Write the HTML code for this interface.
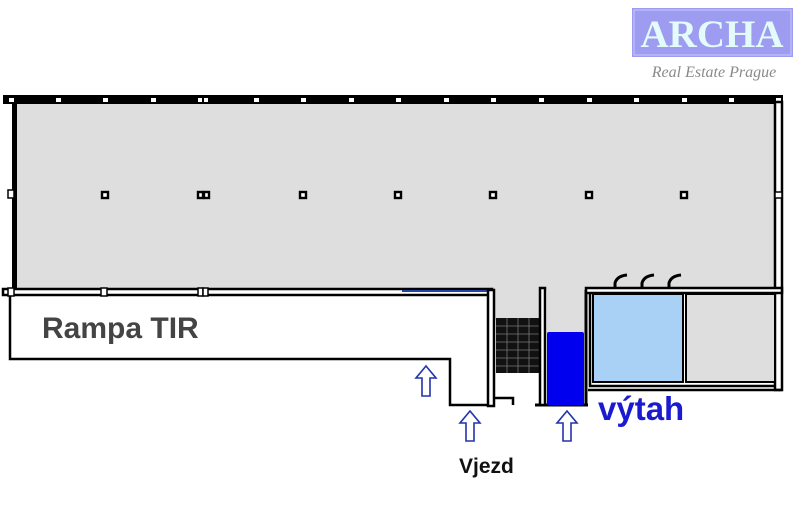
<!DOCTYPE html>
<html><head><meta charset="utf-8"><style>
html,body{margin:0;padding:0;background:#fff;width:800px;height:511px;overflow:hidden}
</style></head><body>
<svg width="800" height="511" viewBox="0 0 800 511" xmlns="http://www.w3.org/2000/svg">
<rect x="632" y="8" width="161" height="49" fill="#9d9cf0"/>
<rect x="634" y="10" width="157" height="45" fill="none" stroke="#c8c8f8" stroke-width="1"/>
<text x="712" y="47" text-anchor="middle" font-family="Liberation Serif, serif" font-weight="bold" font-size="39" fill="#e4fbfb">ARCHA</text>
<text x="714" y="77" text-anchor="middle" font-family="Liberation Serif, serif" font-style="italic" font-size="16" fill="#8a8a8a">Real Estate Prague</text>

<rect x="15" y="102" width="762" height="188" fill="#dedede"/>
<rect x="495" y="288" width="45" height="32" fill="#dedede"/>
<rect x="547" y="288" width="38" height="46" fill="#dedede"/>
<rect x="3" y="95" width="780" height="9" fill="#000"/>
<g fill="#fff">
<rect x="9" y="98" width="5" height="4"/><rect x="56" y="98" width="5" height="4"/><rect x="103" y="98" width="5" height="4"/><rect x="151" y="98" width="5" height="4"/><rect x="198" y="98" width="4" height="4"/><rect x="204" y="98" width="4" height="4"/><rect x="254" y="98" width="5" height="4"/><rect x="301" y="98" width="5" height="4"/><rect x="349" y="98" width="5" height="4"/><rect x="396" y="98" width="5" height="4"/><rect x="444" y="98" width="5" height="4"/><rect x="491" y="98" width="5" height="4"/><rect x="539" y="98" width="5" height="4"/><rect x="587" y="98" width="5" height="4"/><rect x="634" y="98" width="5" height="4"/><rect x="682" y="98" width="5" height="4"/><rect x="729" y="98" width="5" height="4"/><rect x="776" y="98" width="5" height="4"/>
</g>
<rect x="12" y="102" width="5" height="192" fill="#000"/>
<rect x="8" y="190" width="6" height="8" fill="#fff" stroke="#000" stroke-width="1.5"/>
<rect x="775" y="102" width="7" height="288" fill="#fff" stroke="#000" stroke-width="2.5"/>
<rect x="775" y="192" width="7" height="6" fill="#fff" stroke="#000" stroke-width="1.5"/>
<rect x="3" y="289" width="489" height="6" fill="#fff" stroke="#000" stroke-width="2.5"/>
<line x1="402" y1="291" x2="490" y2="291" stroke="#2244aa" stroke-width="2"/>
<g fill="#fff" stroke="#000" stroke-width="1.5">
<rect x="8" y="288" width="6" height="8"/><rect x="101" y="288" width="6" height="8"/><rect x="198" y="288" width="5" height="8"/><rect x="203" y="288" width="5" height="8"/>
</g>
<g fill="#fff" stroke="#000" stroke-width="2.4">
<rect x="102" y="192" width="6" height="6"/><rect x="198" y="192" width="5" height="6"/><rect x="204" y="192" width="5" height="6"/><rect x="300" y="192" width="6" height="6"/><rect x="395" y="192" width="6" height="6"/><rect x="490" y="192" width="6" height="6"/><rect x="586" y="192" width="6" height="6"/><rect x="681" y="192" width="6" height="6"/>
</g>
<path d="M10 296 V359 H450 V405 H490" fill="none" stroke="#000" stroke-width="2.5"/>
<text x="42" y="338" font-family="Liberation Sans, sans-serif" font-weight="bold" font-size="30" fill="#444">Rampa TIR</text>
<rect x="488" y="290" width="6" height="116" fill="#fff" stroke="#000" stroke-width="2.5"/>
<rect x="496" y="318" width="44" height="55" fill="#111"/>
<g stroke="#777" stroke-width="0.8">
<line x1="507" y1="318" x2="507" y2="373"/><line x1="518" y1="318" x2="518" y2="373"/><line x1="529" y1="318" x2="529" y2="373"/>
<line x1="496" y1="326" x2="540" y2="326"/><line x1="496" y1="334" x2="540" y2="334"/><line x1="496" y1="342" x2="540" y2="342"/><line x1="496" y1="350" x2="540" y2="350"/><line x1="496" y1="358" x2="540" y2="358"/><line x1="496" y1="366" x2="540" y2="366"/>
</g>
<path d="M494 398 H513 V405" fill="none" stroke="#000" stroke-width="2.5"/>
<path d="M535 405 H588" fill="none" stroke="#000" stroke-width="3"/>
<rect x="540" y="288" width="5" height="117" fill="#fff" stroke="#000" stroke-width="2.5"/>
<rect x="547" y="332" width="37" height="73" rx="2" fill="#0000ee"/>
<path d="M586 290 V405" stroke="#000" stroke-width="3" fill="none"/>
<path d="M590 292 V386 H776" stroke="#000" stroke-width="2.5" fill="none"/>
<path d="M588 390 H782" stroke="#000" stroke-width="2.5" fill="none"/>
<rect x="586" y="288" width="196" height="5" fill="#fff" stroke="#000" stroke-width="2.5"/>
<rect x="593" y="294" width="90" height="88" fill="#a9d0f5" stroke="#000" stroke-width="2"/>
<rect x="686" y="294" width="89" height="88" fill="#dedede" stroke="#000" stroke-width="2"/>
<g fill="none" stroke="#000" stroke-width="3">
<path d="M615 288 V283 Q617 276 627 275"/><path d="M642 288 V283 Q644 276 654 275"/><path d="M669 288 V283 Q671 276 681 275"/>
</g>
<text x="598" y="420" font-family="Liberation Sans, sans-serif" font-weight="bold" font-size="33" fill="#1a1ad0">výtah</text>
<g fill="#fff" stroke="#2233aa" stroke-width="1.6">
<path d="M426 366 L436 378 H430 V396 H422 V378 H416 Z"/>
<path d="M470 411 L480 423 H474 V441 H466 V423 H460 Z"/>
<path d="M567 411 L577 423 H571 V441 H563 V423 H557 Z"/>
</g>
<text x="459" y="473" font-family="Liberation Sans, sans-serif" font-weight="bold" font-size="21" fill="#111">Vjezd</text>
</svg>
</body></html>
